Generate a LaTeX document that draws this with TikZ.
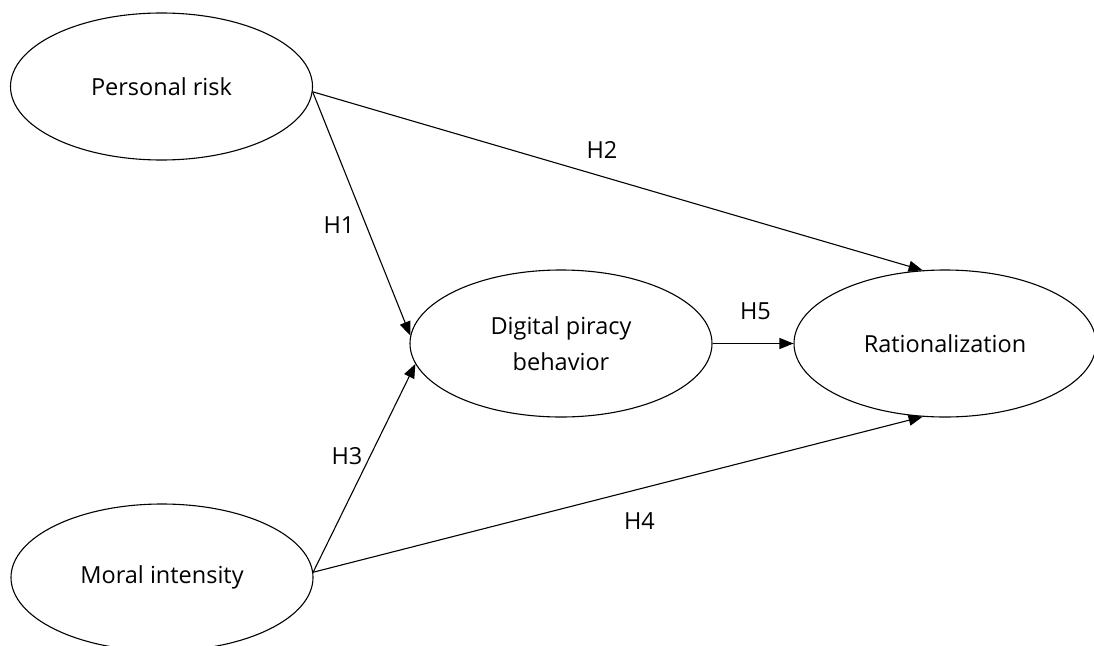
\documentclass[tikz,border=0pt]{standalone}
\usepackage{fontspec}
\setmainfont{Open Sans}
\usetikzlibrary{arrows.meta,shapes.geometric,positioning}

\begin{document}
\begin{tikzpicture}[x=1pt,y=-1pt,font=\fontsize{23.5}{36}\selectfont]
      \useasboundingbox (0,0) rectangle (1094,645);
      \begin{scope}[every node/.style={ellipse,draw,line width=1.1pt,minimum width=302pt,minimum height=147pt,inner sep=0pt,align=center}]
        \node (PR) at (161.5,86.5) {Personal risk};
        \node (MI) at (162,577.5) {Moral intensity};
        \node (DP) at (561,343.5) {Digital piracy\\behavior};
        \node (RA) at (945,343.5) {Rationalization};
      \end{scope}
      \begin{scope}
        [every edge/.style={draw=black,line width=1.1pt,-{Triangle[length=14pt,width=11pt]}}]
        \path (PR.-2.5) edge (DP.177.5);
        \path (PR.-2.5) edge (RA.107);
        \path (MI.2.5) edge (DP.188);
        \path (MI.2.5) edge (RA.253);
        \path (DP.east) edge (RA.west);
      \end{scope}
      \begin{scope}[every node/.style={inner sep=0pt}]
        \node (H1) at (339,225.5) {H1};
        \node (H2) at (602,149.5) {H2};
        \node (H3) at (347,456) {H3};
        \node (H4) at (639.5,521) {H4};
        \node (H5) at (755.5,311) {H5};
      \end{scope}
    \end{tikzpicture}
\end{document}
